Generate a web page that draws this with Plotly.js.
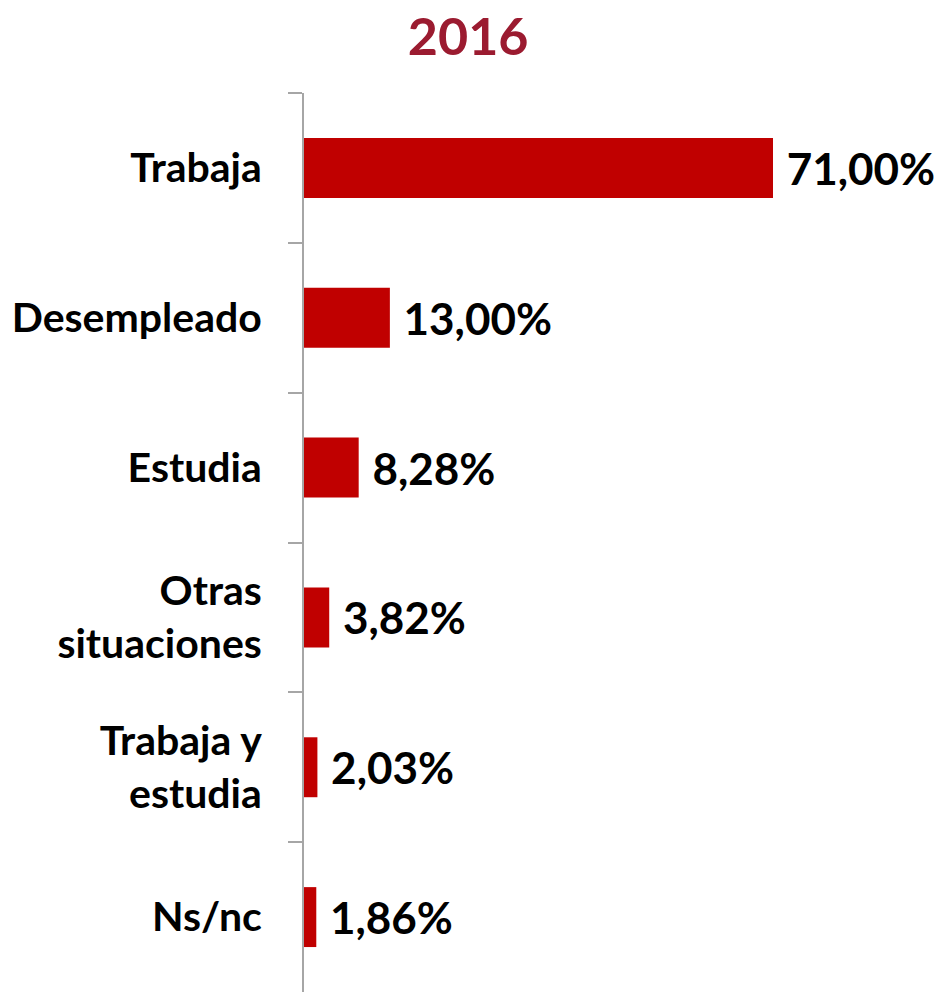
<!DOCTYPE html>
<html>
<head>
<meta charset="utf-8">
<script src="https://cdn.plot.ly/plotly-3.0.1.min.js"></script>
<style>html,body{margin:0;padding:0;background:#fff;}#chart{width:942px;height:992px;}</style>
</head>
<body>
<div id="chart"></div>
<script>
const categories = ["Trabaja", "Desempleado", "Estudia", "Otras<br>situaciones", "Trabaja y<br>estudia", "Ns/nc"];
const values = [71.00, 13.00, 8.28, 3.82, 2.03, 1.86];
const valueLabels = ["71,00%", "13,00%", "8,28%", "3,82%", "2,03%", "1,86%"];
const chartTitle = "2016";

const trace = {
  type: "bar",
  orientation: "h",
  x: values,
  y: categories,
  text: valueLabels.map(t => "\u00a0" + t),
  textposition: "outside",
  cliponaxis: false,
  textfont: {family: "Lato, 'Open Sans', sans-serif", size: 44, color: "#000000", weight: "bold"},
  marker: {color: "#C00000"},
  hoverinfo: "none"
};

const layout = {
  width: 942,
  height: 992,
  margin: {l: 304, r: 8, t: 93, b: 0},
  paper_bgcolor: "#ffffff",
  plot_bgcolor: "#ffffff",
  showlegend: false,
  bargap: 0.6,
  title: {
    text: "<b>" + chartTitle + "</b>",
    font: {family: "Lato, 'Open Sans', sans-serif", size: 52, color: "#9B1B30"},
    x: 0.497, xref: "container", xanchor: "center",
    y: 0.963, yref: "container", yanchor: "middle"
  },
  xaxis: {
    range: [0, 71 * 630 / 469],
    visible: false,
    showgrid: false,
    zeroline: false,
    fixedrange: true
  },
  yaxis: {
    type: "category",
    autorange: "reversed",
    showline: true,
    linecolor: "#A6A6A6",
    linewidth: 2,
    ticks: "outside",
    tickson: "boundaries",
    ticklen: 14,
    tickwidth: 2,
    tickcolor: "#A6A6A6",
    ticklabelstandoff: 32,
    tickfont: {family: "Lato, 'Open Sans', sans-serif", size: 41, color: "#000000", weight: "bold"},
    showgrid: false,
    zeroline: false
  }
};

Plotly.newPlot("chart", [trace], layout, {displayModeBar: false, staticPlot: true});
</script>
</body>
</html>
